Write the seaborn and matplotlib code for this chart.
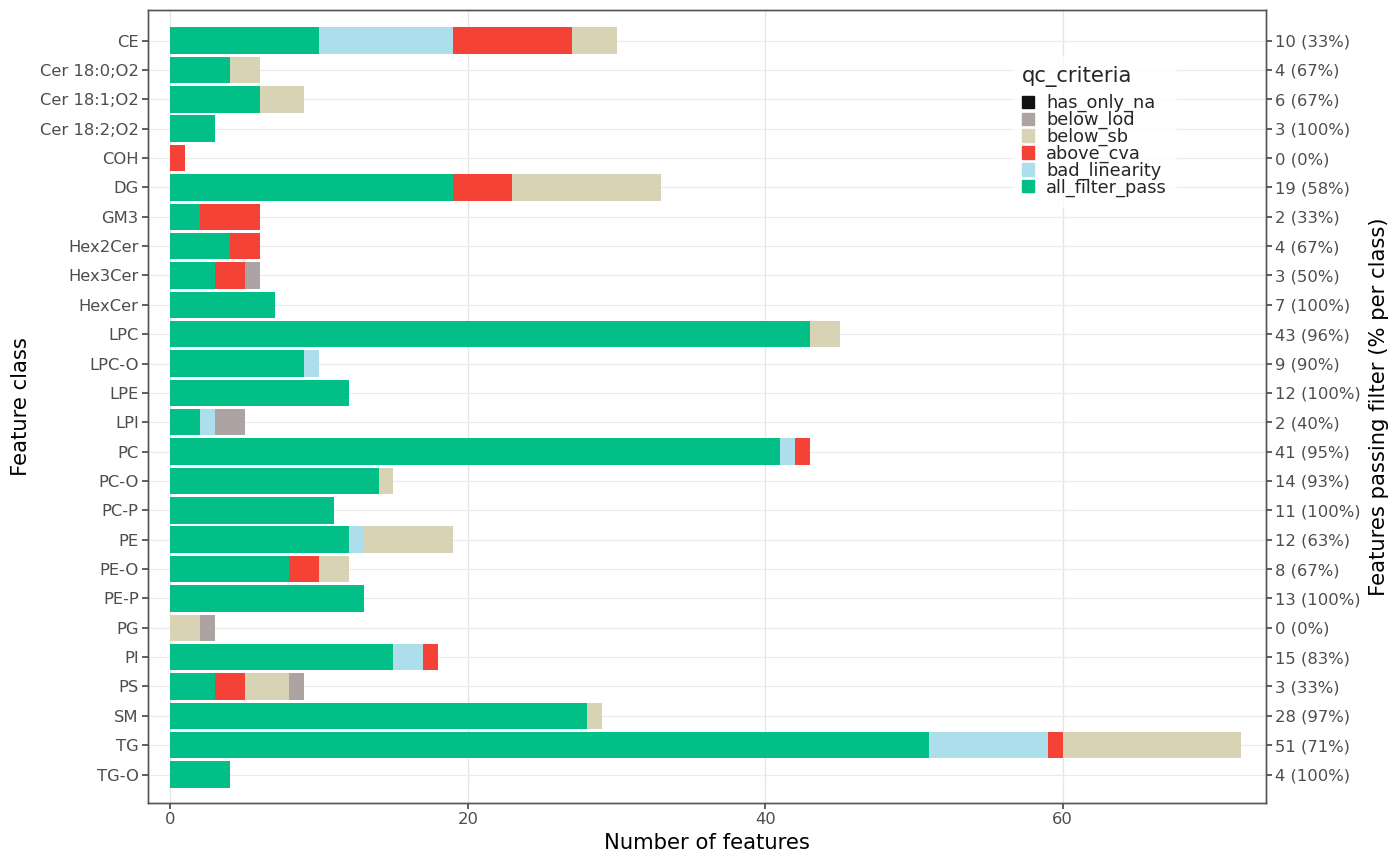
import seaborn as sns
import matplotlib.pyplot as plt
import matplotlib.patches as mpatches
import pandas as pd
import numpy as np

# Feature classes (top to bottom)
classes = ["CE", "Cer 18:0;O2", "Cer 18:1;O2", "Cer 18:2;O2", "COH", "DG", "GM3",
           "Hex2Cer", "Hex3Cer", "HexCer", "LPC", "LPC-O", "LPE", "LPI", "PC",
           "PC-O", "PC-P", "PE", "PE-O", "PE-P", "PG", "PI", "PS", "SM", "TG", "TG-O"]

# Feature counts per QC criterion
all_filter_pass = [10, 4, 6, 3, 0, 19, 2, 4, 3, 7, 43, 9, 12, 2, 41, 14, 11, 12, 8, 13, 0, 15, 3, 28, 51, 4]
bad_linearity = [9, 0, 0, 0, 0, 0, 0, 0, 0, 0, 0, 1, 0, 1, 1, 0, 0, 1, 0, 0, 0, 2, 0, 0, 8, 0]
above_cva = [8, 0, 0, 0, 1, 4, 4, 2, 2, 0, 0, 0, 0, 0, 1, 0, 0, 0, 2, 0, 0, 1, 2, 0, 1, 0]
below_sb = [3, 2, 3, 0, 0, 10, 0, 0, 0, 0, 2, 0, 0, 0, 0, 1, 0, 6, 2, 0, 2, 0, 3, 1, 12, 0]
below_lod = [0, 0, 0, 0, 0, 0, 0, 0, 1, 0, 0, 0, 0, 2, 0, 0, 0, 0, 0, 0, 1, 0, 1, 0, 0, 0]
has_only_na = [0] * len(classes)

criteria = ["all_filter_pass", "bad_linearity", "above_cva", "below_sb", "below_lod", "has_only_na"]
colors = {"all_filter_pass": "#02BF87", "bad_linearity": "#ADDEEB", "above_cva": "#F44336",
          "below_sb": "#D9D3B5", "below_lod": "#ADA3A2", "has_only_na": "#111111"}

df = pd.DataFrame({"class": classes, "all_filter_pass": all_filter_pass,
                   "bad_linearity": bad_linearity, "above_cva": above_cva,
                   "below_sb": below_sb, "below_lod": below_lod, "has_only_na": has_only_na})

# cumulative sums so the stacked layers can be overplotted
cum = df[criteria].cumsum(axis=1)
cum["class"] = df["class"]
total = df[criteria].sum(axis=1)
right_labels = [f"{p} ({round(100 * p / t)}%)" for p, t in zip(df["all_filter_pass"], total)]

sns.set_style("white")
plt.rcParams["font.family"] = ["DejaVu Sans"]

TICK_FS = 11.8
TITLE_FS = 15.2

fig = plt.figure(figsize=(14, 8.65), dpi=100)
ax = fig.add_axes([0.106, 0.072, 0.798, 0.916])

# grid lines first
for x in [0, 20, 40, 60]:
    ax.axvline(x, color="#e5e5e5", lw=0.9, zorder=0)
for i in range(len(classes)):
    ax.axhline(i, color="#ebebeb", lw=0.9, zorder=0)

for crit in reversed(criteria):
    sns.barplot(data=cum, x=crit, y="class", order=classes, orient="h",
                color=colors[crit], saturation=1, width=0.9, linewidth=0,
                ax=ax, zorder=2)

ax.set_xlim(-1.48, 73.64)
ax.set_ylim(len(classes) - 1 + 0.96, -1.03)
ax.set_xticks([0, 20, 40, 60])
ax.set_xlabel("Number of features", fontsize=TITLE_FS, color="black", labelpad=4)
ax.set_ylabel("Feature class", fontsize=TITLE_FS, color="black", labelpad=6)
ax.tick_params(axis="both", labelsize=TICK_FS, labelcolor="#4d4d4d", length=4,
               color="#333333", width=1.1, left=True, bottom=True, pad=3)

ax2 = ax.twinx()
ax2.set_ylim(ax.get_ylim())
ax2.set_yticks(range(len(classes)))
ax2.set_yticklabels(right_labels)
ax2.set_ylabel("Features passing filter (% per class)", fontsize=TITLE_FS, color="black",
               labelpad=6)
ax2.tick_params(axis="y", labelsize=TICK_FS, labelcolor="#4d4d4d", length=4,
                color="#333333", width=1.1, right=True, pad=3)

for a in (ax, ax2):
    for s in a.spines.values():
        s.set_color("#555555")
        s.set_linewidth(1.0)

handles = [mpatches.Patch(color=colors[c], label=c) for c in reversed(criteria)]
leg = ax.legend(handles=handles, title="qc_criteria", loc="upper left",
                bbox_to_anchor=(0.766, 0.952), frameon=True, facecolor="white",
                edgecolor="white", fontsize=12.8, title_fontsize=15.2,
                handlelength=0.7, handleheight=0.7, labelspacing=-0.08,
                handletextpad=0.67, borderpad=0.5)
leg._legend_box.align = "left"
leg._legend_box.sep = 5  # gap between title and keys
leg.set_zorder(5)

fig.savefig("out.png", dpi=100)
